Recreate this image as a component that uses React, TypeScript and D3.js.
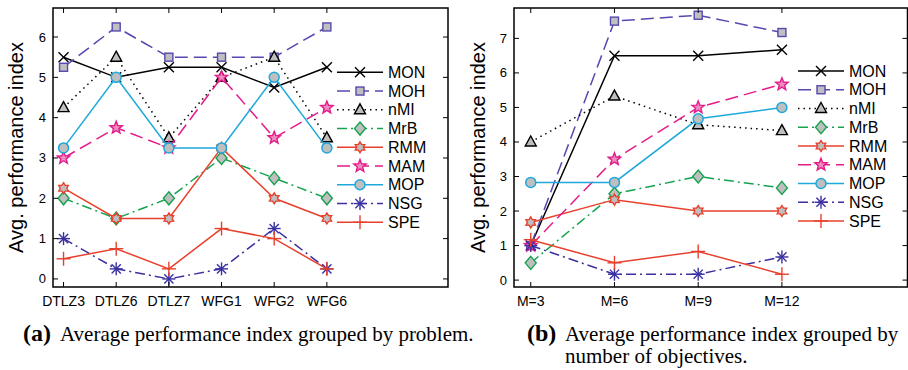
import React from "react";
import * as d3 from "d3";

// series names, in drawing order
const methods = ["MON", "MOH", "nMI", "MrB", "RMM", "MAM", "MOP", "NSG", "SPE"];

// (a) grouped by problem
const problems = ["DTLZ3", "DTLZ6", "DTLZ7", "WFG1", "WFG2", "WFG6"];
const byProblem: Record<string, number[]> = {
  MON: [5.5, 5.0, 5.25, 5.25, 4.75, 5.25],
  MOH: [5.25, 6.25, 5.5, 5.5, 5.5, 6.25],
  nMI: [4.25, 5.5, 3.5, 5.0, 5.5, 3.5],
  MrB: [2.0, 1.5, 2.0, 3.0, 2.5, 2.0],
  RMM: [2.25, 1.5, 1.5, 3.25, 2.0, 1.5],
  MAM: [3.0, 3.75, 3.25, 5.0, 3.5, 4.25],
  MOP: [3.25, 5.0, 3.25, 3.25, 5.0, 3.25],
  NSG: [1.0, 0.25, 0.0, 0.25, 1.25, 0.25],
  SPE: [0.5, 0.75, 0.25, 1.25, 1.0, 0.25],
};

// (b) grouped by number of objectives
const objectives = ["M=3", "M=6", "M=9", "M=12"];
const byObjectives: Record<string, number[]> = {
  MON: [1.0, 6.5, 6.5, 6.67],
  MOH: [1.0, 7.5, 7.67, 7.17],
  nMI: [4.0, 5.33, 4.5, 4.33],
  MrB: [0.5, 2.5, 3.0, 2.67],
  RMM: [1.67, 2.33, 2.0, 2.0],
  MAM: [1.0, 3.5, 5.0, 5.67],
  MOP: [2.83, 2.83, 4.67, 5.0],
  NSG: [1.0, 0.17, 0.17, 0.67],
  SPE: [1.17, 0.5, 0.83, 0.17],
};

const style: Record<string, { color: string; dash: string; marker: string }> = {
  MON: { color: "#000000", dash: "none", marker: "x" },
  MOH: { color: "#5548b0", dash: "13 6", marker: "square" },
  nMI: { color: "#000000", dash: "1.5 4", marker: "triangle" },
  MrB: { color: "#16a34f", dash: "10 4 2 4", marker: "diamond" },
  RMM: { color: "#e8402c", dash: "none", marker: "hexagram" },
  MAM: { color: "#e41c8a", dash: "13 6", marker: "pentagram" },
  MOP: { color: "#1ea8dc", dash: "none", marker: "circle" },
  NSG: { color: "#3a30a0", dash: "10 4 2 4", marker: "asterisk" },
  SPE: { color: "#e8402c", dash: "none", marker: "plus" },
};

const GRAY = "#bfbfbf";
const SANS = "'Liberation Sans', Arial, sans-serif";
const SERIF = "'Liberation Serif', 'Times New Roman', serif";

const star = (n: number, ro: number, ri: number) => {
  const pts: string[] = [];
  for (let i = 0; i < n * 2; i++) {
    const r = i % 2 === 0 ? ro : ri;
    const a = -Math.PI / 2 + (i * Math.PI) / n;
    pts.push(`${(r * Math.cos(a)).toFixed(2)},${(r * Math.sin(a)).toFixed(2)}`);
  }
  return "M" + pts.join("L") + "Z";
};

const Marker = ({ type, x, y, color }: { type: string; x: number; y: number; color: string }) => {
  const t = `translate(${x},${y})`;
  switch (type) {
    case "x":
      return (
        <g transform={t} stroke={color} strokeWidth={1.4}>
          <line x1={-5} y1={-5} x2={5} y2={5} />
          <line x1={-5} y1={5} x2={5} y2={-5} />
        </g>
      );
    case "square":
      return <rect transform={t} x={-4} y={-4} width={8} height={8} fill={GRAY} stroke={color} strokeWidth={1.4} />;
    case "triangle":
      return <path transform={t} d="M0,-6L5.5,4L-5.5,4Z" fill={GRAY} stroke={color} strokeWidth={1.4} />;
    case "diamond":
      return <path transform={t} d="M0,-6.5L5.5,0L0,6.5L-5.5,0Z" fill={GRAY} stroke={color} strokeWidth={1.4} />;
    case "hexagram":
      return <path transform={t} d={star(6, 5.5, 3.3)} fill={GRAY} stroke={color} strokeWidth={1.4} />;
    case "pentagram":
      return <path transform={t} d={star(5, 6.5, 2.8)} fill="#ee8cc0" stroke={color} strokeWidth={1.4} />;
    case "circle":
      return <circle transform={t} r={5} fill={GRAY} stroke={color} strokeWidth={1.5} />;
    case "asterisk":
      return (
        <g transform={t} stroke={color} strokeWidth={1.4}>
          <line x1={0} y1={-6.5} x2={0} y2={6.5} />
          <line x1={-6.5} y1={0} x2={6.5} y2={0} />
          <line x1={-4.6} y1={-4.6} x2={4.6} y2={4.6} />
          <line x1={-4.6} y1={4.6} x2={4.6} y2={-4.6} />
        </g>
      );
    case "plus":
      return (
        <g transform={t} stroke={color} strokeWidth={1.4}>
          <line x1={0} y1={-7} x2={0} y2={7} />
          <line x1={-7} y1={0} x2={7} y2={0} />
        </g>
      );
    default:
      return null;
  }
};

type PanelProps = {
  left: number;
  right: number;
  top: number;
  bottom: number;
  cats: string[];
  data: Record<string, number[]>;
  xDomain: [number, number];
  yDomain: [number, number];
  yTicks: number[];
  legendX: number;
  legendY: number;
  labelX: number;
};

const Panel = (p: PanelProps) => {
  const x = d3.scaleLinear().domain(p.xDomain).range([p.left, p.right]);
  const y = d3.scaleLinear().domain(p.yDomain).range([p.bottom, p.top]);
  const idx = p.cats.map((_, i) => i + 1);
  const line = d3
    .line<number>()
    .x((_, i) => x(i + 1))
    .y((d) => y(d));
  const tk = 5;
  const rowH = 18.75;

  return (
    <g>
      {/* series */}
      {methods.map((m) => {
        const s = style[m];
        return (
          <g key={m}>
            <path d={line(p.data[m]) || ""} fill="none" stroke={s.color} strokeWidth={1.5} strokeDasharray={s.dash} />
            {p.data[m].map((v, i) => (
              <Marker key={i} type={s.marker} x={x(i + 1)} y={y(v)} color={s.color} />
            ))}
          </g>
        );
      })}

      {/* axes box and ticks */}
      <rect x={p.left} y={p.top} width={p.right - p.left} height={p.bottom - p.top} fill="none" stroke="#000" strokeWidth={1.5} />
      {idx.map((i) => (
        <g key={i} stroke="#000" strokeWidth={1}>
          <line x1={x(i)} x2={x(i)} y1={p.bottom} y2={p.bottom - tk} />
          <line x1={x(i)} x2={x(i)} y1={p.top} y2={p.top + tk} />
        </g>
      ))}
      {p.yTicks.map((v) => (
        <g key={v}>
          <line x1={p.left} x2={p.left + tk} y1={y(v)} y2={y(v)} stroke="#000" />
          <line x1={p.right} x2={p.right - tk} y1={y(v)} y2={y(v)} stroke="#000" />
          <text x={p.left - 7} y={y(v)} textAnchor="end" dominantBaseline="central" fontFamily={SANS} fontSize={13}>
            {v}
          </text>
        </g>
      ))}
      {p.cats.map((c, i) => (
        <text key={c} x={x(i + 1)} y={306} textAnchor="middle" fontFamily={SANS} fontSize={14}>
          {c}
        </text>
      ))}
      <text
        transform={`translate(${p.labelX},${(p.top + p.bottom) / 2}) rotate(-90)`}
        textAnchor="middle"
        dominantBaseline="central"
        fontFamily={SANS}
        fontSize={20}
      >
        Avg. performance index
      </text>

      {/* legend */}
      {methods.map((m, k) => {
        const s = style[m];
        const ly = p.legendY + k * rowH;
        return (
          <g key={m}>
            <line x1={p.legendX} x2={p.legendX + 46} y1={ly} y2={ly} stroke={s.color} strokeWidth={1.5} strokeDasharray={s.dash} />
            <Marker type={s.marker} x={p.legendX + 23} y={ly} color={s.color} />
            <text x={p.legendX + 51} y={ly} dominantBaseline="central" fontFamily={SANS} fontSize={16}>
              {m}
            </text>
          </g>
        );
      })}
    </g>
  );
};

export default function App() {
  return (
    <div style={{ position: "absolute", left: 0, top: 0 }}>
      <svg width={908} height={370} style={{ display: "block", background: "#fff" }}>
        <Panel
          left={53}
          right={448}
          top={8}
          bottom={287}
          cats={problems}
          data={byProblem}
          xDomain={[0.8, 8.3]}
          yDomain={[-0.2, 6.72]}
          yTicks={d3.range(0, 7)}
          legendX={337}
          legendY={72.3}
          labelX={16}
        />
        <Panel
          left={514}
          right={907.5}
          top={8}
          bottom={287}
          cats={objectives}
          data={byObjectives}
          xDomain={[0.8, 5.5]}
          yDomain={[-0.2, 7.88]}
          yTicks={d3.range(0, 8)}
          legendX={798}
          legendY={71}
          labelX={478}
        />
        <text x={23} y={341} fontFamily={SERIF}>
          <tspan fontWeight="bold" fontSize={24}>(a)</tspan>
          <tspan x={60} fontSize={21}>Average performance index grouped by problem.</tspan>
        </text>
        <text x={527} y={341} fontFamily={SERIF}>
          <tspan fontWeight="bold" fontSize={24}>(b)</tspan>
          <tspan x={565} fontSize={21}>Average performance index grouped by</tspan>
        </text>
        <text x={565} y={363} fontFamily={SERIF} fontSize={21}>
          number of objectives.
        </text>
      </svg>
    </div>
  );
}
